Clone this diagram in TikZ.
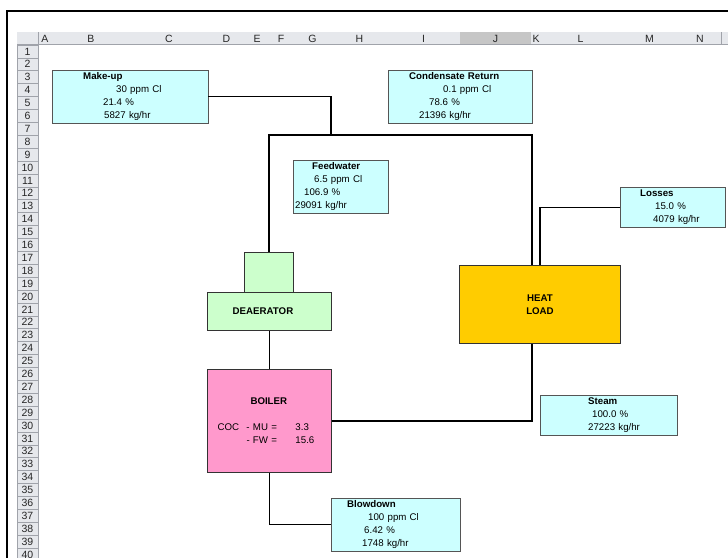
\documentclass[tikz,border=0pt]{standalone}
\usepackage{fontspec}
\setmainfont{Liberation Sans}
\usetikzlibrary{positioning, calc}
\definecolor{cellBase}{RGB}{204,255,255}
\definecolor{cellEdge}{RGB}{85,85,85}
\definecolor{deaFill}{RGB}{204,255,204}
\definecolor{boilFill}{RGB}{255,153,204}
\definecolor{heatFill}{RGB}{255,204,0}
\definecolor{hdrBase}{RGB}{230,232,236}
\definecolor{hdrSel}{RGB}{198,198,198}
\definecolor{hdrEdge}{RGB}{160,163,170}

\begin{document}
\begin{tikzpicture}[x=1pt, y=-1pt,
    infobox/.style={rectangle, draw=cellEdge, fill=cellBase, anchor=north west, inner sep=0pt, align=left, font=\fontsize{9.7}{12.9}\selectfont},
    unit/.style={rectangle, draw=black!80, line width=1pt, fill=#1, anchor=north west, inner sep=0pt, font=\fontsize{9.7}{12.9}\selectfont},
    flow/.style={line width=1.4pt, black},
    collbl/.style={font=\fontsize{10.5}{11}\selectfont, text=black!85, inner sep=0pt},
    rowlbl/.style={font=\fontsize{10.5}{11}\selectfont, text=black!85, inner sep=0pt},
]
\useasboundingbox (0,0) rectangle (728,557);

% ========== SHEET: frame, column and row headers ==========
\draw[line width=2pt] (7,560) -- (7,11) -- (730,11);
\fill[hdrBase] (17,32) rectangle (728,44);
\foreach \a/\b/\c/\f in {38/52/A/hdrBase, 52/130/B/hdrBase, 130/208/C/hdrBase, 208/245/D/hdrBase,
    245/269/E/hdrBase, 269/293/F/hdrBase, 293/332/G/hdrBase, 332/387/H/hdrBase, 387/460/I/hdrBase,
    460/531/J/hdrSel, 531/541/K/hdrBase, 541/620/L/hdrBase, 620/679/M/hdrBase, 679/721/N/hdrBase} {
  \fill[\f] (\a,32) rectangle (\b,44);
  \draw[hdrEdge] (\b,32) -- (\b,44);
  \node[collbl] (col\c) at ({(\a+\b)/2},38.5) {\c};
}
\draw[hdrEdge] (17,44) -- (728,44);
\draw[hdrEdge] (38,32) -- (38,44);
\foreach \r in {1,...,40} {
  \pgfmathsetmacro\yt{44.8+(\r-1)*12.9}
  \draw[hdrEdge, fill=hdrBase] (17,\yt) rectangle (38,\yt+12.9);
  \node[rowlbl] (row\r) at (27.5,\yt+6.6) {\r};
}

% ========== STREAM BOXES ==========
\node[infobox, text width=156pt, minimum height=53pt] (makeup) at (52,70)
  {\hspace*{31pt}\textbf{Make-up}\\ \hspace*{64pt}30 ppm Cl\\ \hspace*{51pt}21.4 \%\\ \hspace*{52pt}5827 kg/hr};
\node[infobox, text width=144pt, minimum height=53pt] (condret) at (388,70)
  {\hspace*{21pt}\textbf{Condensate Return}\\ \hspace*{55pt}0.1 ppm Cl\\ \hspace*{41pt}78.6 \%\\ \hspace*{31pt}21396 kg/hr};
\node[infobox, text width=95pt, minimum height=53pt] (feedw) at (293,160)
  {\hspace*{19pt}\textbf{Feedwater}\\ \hspace*{21pt}6.5 ppm Cl\\ \hspace*{11pt}106.9 \%\\ \hspace*{2pt}29091 kg/hr};
\node[infobox, text width=105pt, minimum height=40pt] (losses) at (620,187)
  {\hspace*{20pt}\textbf{Losses}\\ \hspace*{35pt}15.0 \%\\ \hspace*{33pt}4079 kg/hr};
\node[infobox, text width=137pt, minimum height=40pt] (steam) at (540,395)
  {\hspace*{48pt}\textbf{Steam}\\ \hspace*{52pt}100.0 \%\\ \hspace*{48pt}27223 kg/hr};
\node[infobox, text width=129pt, minimum height=53pt] (blowdown) at (331,498)
  {\hspace*{16pt}\textbf{Blowdown}\\ \hspace*{37pt}100 ppm Cl\\ \hspace*{33pt}6.42 \%\\ \hspace*{31pt}1748 kg/hr};

% ========== EQUIPMENT ==========
\node[unit=deaFill, minimum width=49pt, minimum height=40pt] (dstub) at (244,252) {};
\node[unit=deaFill, minimum width=124pt, minimum height=38pt] (deaer) at (207,292) {\textbf{DEAERATOR}\hspace*{13pt}};
\node[unit=boilFill, minimum height=103pt, text width=124pt, align=left] (boiler) at (207,369)
  {\hspace*{43pt}\textbf{BOILER}\\[12.9pt]
   \hspace*{10pt}\makebox[29pt][l]{COC}\makebox[49pt][l]{- MU =}3.3\\
   \hspace*{39pt}\makebox[49pt][l]{- FW =}15.6};
\node[unit=heatFill, minimum width=161pt, minimum height=78pt, align=center] (heat) at (459,265)
  {\textbf{HEAT}\\\textbf{LOAD}};

% ========== CONNECTIONS ==========
\coordinate (mix) at (331,135);
\coordinate (loopR) at (532,135);
\draw[flow] (makeup.east) -| (mix);
\draw[flow] (dstub.north) |- (loopR) -- (loopR |- heat.north);
\draw[flow] (losses.west) -| ([xshift=81pt]heat.north west);
\draw[flow] (deaer.south) -- (boiler.north);
\draw[flow] (loopR |- heat.south) |- (boiler.east);
\draw[flow] (boiler.south) |- (blowdown.west);

\end{tikzpicture}
\end{document}
